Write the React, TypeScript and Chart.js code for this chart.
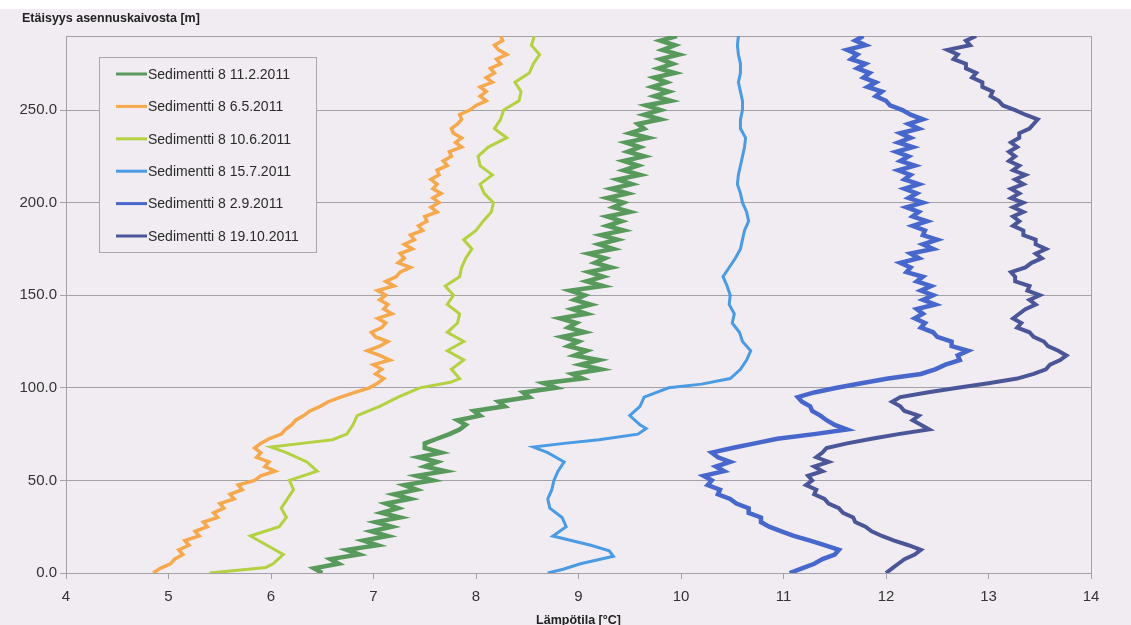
import { useEffect, useRef } from "react";
import { Chart, registerables } from "chart.js";

Chart.register(...registerables);

// ---- Data (temperature °C vs distance m) ----
const seriesLabels = [
  "Sedimentti 8 11.2.2011",
  "Sedimentti 8 6.5.2011",
  "Sedimentti 8 10.6.2011",
  "Sedimentti 8 15.7.2011",
  "Sedimentti 8 2.9.2011",
  "Sedimentti 8 19.10.2011",
];
const seriesColors = ["#589a5c", "#f6a84c", "#b3d140", "#4b9be4", "#4767cc", "#4b5698"];
const seriesWidths = [4.5, 3.5, 3, 3, 4.5, 4];

const xTickValues = [4, 5, 6, 7, 8, 9, 10, 11, 12, 13, 14];
const yTickValues = [0, 50, 100, 150, 200, 250];

// distance sampling (m) for the dense profiles
const depthsFine = [
  0, 2.5, 5, 7.5, 10, 12.5, 15, 17.5, 20, 22.5,
  25, 27.5, 30, 32.5, 35, 37.5, 40, 42.5, 45, 47.5,
  50, 52.5, 55, 57.5, 60, 62.5, 65, 67.5, 70, 72.5,
  75, 77.5, 80, 82.5, 85, 87.5, 90, 92.5, 95, 97.5,
  100, 102.5, 105, 107.5, 110, 112.5, 115, 117.5, 120, 122.5,
  125, 127.5, 130, 132.5, 135, 137.5, 140, 142.5, 145, 147.5,
  150, 152.5, 155, 157.5, 160, 162.5, 165, 167.5, 170, 172.5,
  175, 177.5, 180, 182.5, 185, 187.5, 190, 192.5, 195, 197.5,
  200, 202.5, 205, 207.5, 210, 212.5, 215, 217.5, 220, 222.5,
  225, 227.5, 230, 232.5, 235, 237.5, 240, 242.5, 245, 247.5,
  250, 252.5, 255, 257.5, 260, 262.5, 265, 267.5, 270, 272.5,
  275, 277.5, 280, 282.5, 285, 287.5, 290,
];

// 11.2.2011
const tempFeb = [
  6.5, 6.42, 6.66, 6.58, 6.86, 6.74, 7.04, 6.9, 7.14, 6.98,
  7.18, 7.02, 7.26, 7.08, 7.24, 7.12, 7.36, 7.2, 7.42, 7.3,
  7.58, 7.42, 7.7, 7.5, 7.62, 7.44, 7.66, 7.5, 7.5, 7.62,
  7.74, 7.84, 7.9, 7.82, 8.04, 7.98, 8.28, 8.22, 8.52, 8.46,
  8.78, 8.66, 9.04, 8.94, 9.22, 9.02, 9.2, 8.96, 9.08, 8.9,
  9.0, 8.84, 9.06, 8.9, 8.98, 8.82, 9.08, 8.94, 9.12, 8.96,
  9.06, 8.92, 9.24, 9.08, 9.24, 9.1, 9.32, 9.16, 9.26, 9.1,
  9.34, 9.2, 9.38, 9.22, 9.44, 9.28, 9.42, 9.28, 9.5, 9.34,
  9.44, 9.28, 9.48, 9.32, 9.52, 9.38, 9.6, 9.44, 9.58, 9.44,
  9.64, 9.48, 9.6, 9.46, 9.68, 9.5, 9.64, 9.58, 9.8, 9.64,
  9.8, 9.66, 9.9, 9.74, 9.88, 9.72, 9.86, 9.74, 9.94, 9.78,
  9.92, 9.8, 9.98, 9.82, 9.94, 9.8, 9.96,
];

// 6.5.2011
const tempMay = [
  4.85, 4.92, 5.02, 5.06, 5.14, 5.1, 5.2, 5.16, 5.3, 5.26,
  5.38, 5.34, 5.48, 5.44, 5.54, 5.5, 5.64, 5.6, 5.72, 5.68,
  5.84, 5.9, 6.04, 5.94, 5.98, 5.86, 5.9, 5.84, 5.9, 5.98,
  6.1, 6.14, 6.2, 6.24, 6.32, 6.38, 6.48, 6.56, 6.68, 6.82,
  6.96, 7.04, 7.1, 7.02, 7.08, 7.0, 7.16, 7.06, 6.94, 7.06,
  7.14, 7.02, 6.98, 7.08, 7.12, 7.04, 7.18, 7.1, 7.14, 7.06,
  7.12, 7.04, 7.2, 7.12, 7.22, 7.26, 7.36, 7.24, 7.3, 7.26,
  7.38, 7.3, 7.4, 7.36, 7.48, 7.44, 7.52, 7.5, 7.62, 7.56,
  7.64, 7.58, 7.66, 7.58, 7.62, 7.56, 7.64, 7.62, 7.72, 7.68,
  7.76, 7.74, 7.86, 7.8, 7.86, 7.78, 7.76, 7.82, 7.86, 7.84,
  7.94, 8.0, 8.1, 8.04, 8.1, 8.04, 8.16, 8.1, 8.18, 8.14,
  8.24, 8.2, 8.3, 8.22, 8.18, 8.26, 8.24,
];

// 10.6.2011
const depthsJun = [
  0, 3, 5, 10, 15, 20, 25, 30, 35, 40, 45, 50, 55, 60, 65, 68, 70, 72, 75, 80, 85, 90,
  95, 100, 103, 105, 110, 115, 120, 125, 130, 135, 140, 145, 150, 155, 160, 165, 170,
  175, 180, 185, 190, 195, 200, 205, 210, 215, 220, 225, 230, 235, 240, 245, 250, 255,
  260, 265, 270, 275, 280, 285, 290,
];
const tempJun = [
  5.4, 5.95, 6.02, 6.12, 5.96, 5.8, 6.08, 6.15, 6.1, 6.16, 6.22, 6.18, 6.45, 6.35, 6.15,
  6.0, 6.3, 6.6, 6.74, 6.8, 6.84, 7.06, 7.24, 7.45, 7.75, 7.84, 7.76, 7.88, 7.72, 7.88,
  7.72, 7.82, 7.84, 7.72, 7.78, 7.7, 7.84, 7.86, 7.9, 7.96, 7.88, 8.0, 8.07, 8.15,
  8.17, 8.08, 8.04, 8.16, 8.04, 8.02, 8.12, 8.3, 8.18, 8.24, 8.27, 8.42, 8.44, 8.38, 8.52,
  8.56, 8.62, 8.54, 8.57,
];

// 15.7.2011
const depthsJul = [
  0, 2, 5, 9, 12, 15, 20, 25, 30, 35, 40, 45, 50, 55, 60, 65, 68, 70, 72, 75, 78, 80,
  85, 90, 95, 100, 102, 105, 110, 115, 120, 125, 130, 135, 140, 145, 150, 155, 160,
  165, 170, 175, 180, 185, 190, 195, 200, 205, 210, 215, 220, 225, 230, 235, 240, 245,
  250, 255, 260, 265, 270, 275, 280, 285, 290,
];
const tempJul = [
  8.7, 8.85, 9.02, 9.34, 9.3, 9.12, 8.75, 8.88, 8.84, 8.72, 8.7, 8.74, 8.76, 8.8, 8.86,
  8.7, 8.56, 8.86, 9.2, 9.58, 9.66, 9.6, 9.5, 9.6, 9.64, 9.88, 10.2, 10.48, 10.58,
  10.64, 10.68, 10.6, 10.57, 10.5, 10.52, 10.47, 10.48, 10.45, 10.41, 10.47, 10.53,
  10.58, 10.6, 10.62, 10.66, 10.64, 10.6, 10.58, 10.55, 10.56, 10.58, 10.6, 10.62,
  10.63, 10.58, 10.58, 10.6, 10.6, 10.58, 10.56, 10.58, 10.58, 10.56, 10.55, 10.56,
];

// 2.9.2011
const tempSep = [
  11.06, 11.18, 11.3, 11.38, 11.5, 11.54, 11.4, 11.26, 11.1, 10.98,
  10.86, 10.78, 10.78, 10.66, 10.66, 10.54, 10.48, 10.36, 10.38, 10.26,
  10.3, 10.22, 10.42, 10.34, 10.48, 10.36, 10.3, 10.5, 10.72, 10.94,
  11.3, 11.62, 11.5, 11.42, 11.36, 11.28, 11.26, 11.18, 11.14, 11.3,
  11.52, 11.76, 12.02, 12.34, 12.48, 12.58, 12.72, 12.7, 12.8, 12.64,
  12.64, 12.5, 12.46, 12.34, 12.38, 12.28, 12.36, 12.3, 12.48, 12.36,
  12.46, 12.34, 12.44, 12.3, 12.36, 12.2, 12.24, 12.14, 12.32, 12.24,
  12.46, 12.36, 12.5, 12.36, 12.38, 12.26, 12.4, 12.26, 12.32, 12.2,
  12.36, 12.22, 12.3, 12.18, 12.32, 12.18, 12.24, 12.12, 12.28, 12.14,
  12.22, 12.1, 12.26, 12.12, 12.24, 12.14, 12.32, 12.22, 12.36, 12.24,
  12.16, 12.04, 12.0, 11.9, 11.96, 11.82, 11.9, 11.78, 11.84, 11.72,
  11.8, 11.66, 11.72, 11.62, 11.8, 11.7, 11.78,
];

// 19.10.2011
const tempOct = [
  12.0, 12.06, 12.12, 12.18, 12.28, 12.34, 12.22, 12.08, 11.96, 11.86,
  11.8, 11.7, 11.68, 11.58, 11.54, 11.44, 11.4, 11.3, 11.32, 11.22,
  11.28, 11.24, 11.38, 11.3, 11.44, 11.32, 11.38, 11.42, 11.62, 11.86,
  12.12, 12.42, 12.34, 12.26, 12.32, 12.18, 12.14, 12.06, 12.14, 12.4,
  12.7, 13.0, 13.28, 13.44, 13.56, 13.6, 13.7, 13.76, 13.68, 13.58,
  13.54, 13.44, 13.4, 13.28, 13.32, 13.24, 13.3, 13.36, 13.46, 13.4,
  13.5, 13.38, 13.4, 13.26, 13.26, 13.22, 13.36, 13.42, 13.52, 13.46,
  13.56, 13.46, 13.46, 13.34, 13.34, 13.24, 13.3, 13.24, 13.34, 13.24,
  13.34, 13.22, 13.3, 13.22, 13.34, 13.26, 13.36, 13.24, 13.3, 13.2,
  13.26, 13.2, 13.28, 13.22, 13.3, 13.3, 13.4, 13.44, 13.48, 13.36,
  13.26, 13.14, 13.1, 13.02, 13.04, 12.94, 12.94, 12.84, 12.88, 12.78,
  12.78, 12.66, 12.7, 12.6, 12.82, 12.78, 12.88,
];

const seriesDepths = [depthsFine, depthsFine, depthsJun, depthsJul, depthsFine, depthsFine];
const seriesTemps = [tempFeb, tempMay, tempJun, tempJul, tempSep, tempOct];

const yTitle = "Etäisyys asennuskaivosta [m]";
const xTitle = "Lämpötila [°C]";

const BG = "#f1ecf2";
const GRID = "#a3a1a6";
const FONT = "'Liberation Sans', Arial, sans-serif";

const decorPlugin = {
  id: "decor",
  beforeDatasetsDraw(chart: any) {
    const { ctx, chartArea: a } = chart;
    ctx.save();
    ctx.strokeStyle = GRID;
    ctx.lineWidth = 1;
    ctx.strokeRect(Math.round(a.left) + 0.5, Math.round(a.top) + 0.5, Math.round(a.right - a.left), Math.round(a.bottom - a.top));
    ctx.restore();
  },
  afterDraw(chart: any) {
    const { ctx, chartArea: a } = chart;
    ctx.save();
    // axis titles
    ctx.fillStyle = "#222";
    ctx.font = `bold 12.5px ${FONT}`;
    ctx.textBaseline = "middle";
    ctx.textAlign = "left";
    ctx.fillText(yTitle, 22, 19);
    ctx.textAlign = "center";
    ctx.fillText(xTitle, (a.left + a.right) / 2, 621);

    // legend
    const lx = 99, ly = 57, lw = 217, lh = 195;
    ctx.fillStyle = BG;
    ctx.fillRect(lx, ly, lw, lh);
    ctx.strokeStyle = "#a8a6aa";
    ctx.lineWidth = 1;
    ctx.strokeRect(lx + 0.5, ly + 0.5, lw, lh);
    ctx.font = `14px ${FONT}`;
    ctx.textAlign = "left";
    ctx.textBaseline = "middle";
    chart.data.datasets.forEach((ds: any, i: number) => {
      const y = 74 + i * 32.4;
      ctx.strokeStyle = ds.borderColor;
      ctx.lineWidth = 3;
      ctx.beginPath();
      ctx.moveTo(116, y);
      ctx.lineTo(147, y);
      ctx.stroke();
      ctx.fillStyle = "#2a2a2a";
      ctx.fillText(ds.label, 148, y + 1);
    });
    ctx.restore();
  },
};

export default function App() {
  const ref = useRef<HTMLCanvasElement | null>(null);

  useEffect(() => {
    document.body.style.margin = "0";
    const canvas = ref.current;
    if (!canvas) return;
    const chart = new Chart(canvas, {
      type: "line",
      data: {
        datasets: seriesLabels.map((label, i) => ({
          label,
          data: seriesDepths[i].map((d, j) => ({ x: seriesTemps[i][j], y: d })),
          borderColor: seriesColors[i],
          backgroundColor: seriesColors[i],
          borderWidth: seriesWidths[i],
          pointRadius: 0,
          tension: 0,
          fill: false,
        })),
      },
      options: {
        animation: false,
        responsive: false,
        maintainAspectRatio: false,
        layout: { padding: { left: 8, right: 40, top: 36, bottom: 0 } },
        plugins: { legend: { display: false }, tooltip: { enabled: false } },
        scales: {
          x: {
            type: "linear",
            min: 4,
            max: 14,
            afterBuildTicks: (s: any) => {
              s.ticks = xTickValues.map((v) => ({ value: v }));
            },
            afterFit: (s: any) => {
              s.height = 52;
            },
            ticks: {
              font: { family: FONT, size: 15 },
              color: "#333",
              padding: 9,
              maxRotation: 0,
              callback: (v: any) => String(v),
            },
            grid: { drawOnChartArea: false, drawTicks: true, tickLength: 6, color: GRID },
            border: { display: true, color: GRID },
          },
          y: {
            type: "linear",
            min: 0,
            max: 290,
            afterBuildTicks: (s: any) => {
              s.ticks = yTickValues.map((v) => ({ value: v }));
            },
            afterFit: (s: any) => {
              s.width = 58;
            },
            ticks: {
              font: { family: FONT, size: 15 },
              color: "#333",
              padding: 3,
              callback: (v: any) => Number(v).toFixed(1),
            },
            grid: { color: GRID, tickLength: 6 },
            border: { display: true, color: GRID },
          },
        },
      },
      plugins: [decorPlugin],
    } as any);
    return () => chart.destroy();
  }, []);

  return (
    <div style={{ position: "relative", width: 1131, height: 625, background: "#ffffff", overflow: "hidden" }}>
      <div style={{ position: "absolute", left: 0, top: 9, width: 1131, height: 616, background: BG }} />
      <canvas
        ref={ref}
        width={1131}
        height={625}
        style={{ position: "absolute", left: 0, top: 0, width: 1131, height: 625 }}
      />
    </div>
  );
}
